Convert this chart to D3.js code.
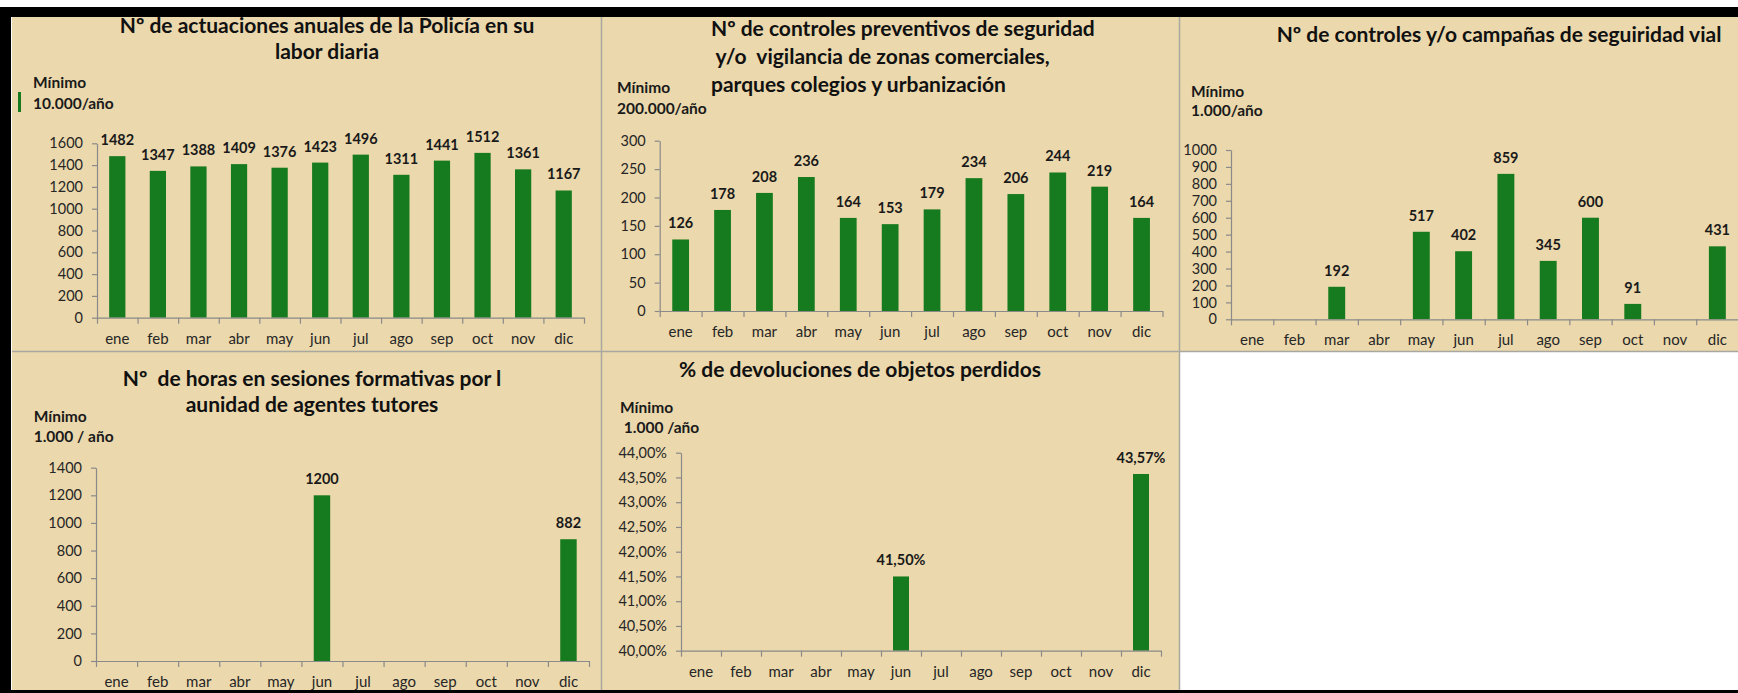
<!DOCTYPE html>
<html><head><meta charset="utf-8">
<script src="https://cdn.jsdelivr.net/npm/d3@7"></script>
<style>
body{margin:0;background:#fff}
svg{display:block}
text{font-family:Lato,"Open Sans",sans-serif}
</style>
</head><body><svg id="c" width="1738" height="693"></svg>
<script>
// ---------- data ----------
const months = ["ene","feb","mar","abr","may","jun","jul","ago","sep","oct","nov","dic"];
const actuaciones = [1482,1347,1388,1409,1376,1423,1496,1311,1441,1512,1361,1167];
const controlesPreventivos = [126,178,208,236,164,153,179,234,206,244,219,164];
const controlesVial = [null,null,192,null,517,402,859,345,600,91,null,431];
const horasFormativas = [null,null,null,null,null,1200,null,null,null,null,null,882];
const devoluciones = [null,null,null,null,null,0.4150,null,null,null,null,null,0.4357];

const ticksActuaciones = [0,200,400,600,800,1000,1200,1400,1600];
const ticksPreventivos = [0,50,100,150,200,250,300];
const ticksVial = [0,100,200,300,400,500,600,700,800,900,1000];
const ticksHoras = [0,200,400,600,800,1000,1200,1400];
const ticksDevoluciones = [0.40,0.405,0.41,0.415,0.42,0.425,0.43,0.435,0.44];

const titleActuaciones = ["Nº de actuaciones anuales de la Policía en su","labor diaria"];
const titlePreventivos = ["Nº de controles preventivos de seguridad"," y/o  vigilancia de zonas comerciales,","parques colegios y urbanización"];
const titleVial = ["Nº de controles y/o campañas de seguiridad vial"];
const titleHoras = ["Nº  de horas en sesiones formativas por l","aunidad de agentes tutores"];
const titleDevoluciones = ["% de devoluciones de objetos perdidos"];

const minActuaciones = ["Mínimo","10.000/año"];
const minPreventivos = ["Mínimo","200.000/año"];
const minVial = ["Mínimo","1.000/año"];
const minHoras = ["Mínimo","1.000 / año"];
const minDevoluciones = ["Mínimo"," 1.000 /año"];

// ---------- style ----------
const BEIGE = "#EBD8AC", GREEN = "#167A1E", AXIS = "#8a8a8a", TXT = "#262626";
const loc = d3.formatLocale({decimal:",", thousands:".", grouping:[3], currency:["","€"]});
const fmtInt = loc.format("d");
const fmtPct = loc.format(".2%");

const svg = d3.select("#c");
svg.append("rect").attr("width",1738).attr("height",693).attr("fill","#fff");

// panels background
const panelsBg = [
  [12,17,590,335],[602,17,578,335],[1180,17,558,335],
  [12,352,590,338],[602,352,578,338]
];
svg.selectAll("rect.bg").data(panelsBg).join("rect").attr("class","bg")
  .attr("x",d=>d[0]).attr("y",d=>d[1]).attr("width",d=>d[2]).attr("height",d=>d[3]).attr("fill",BEIGE);
// separators
svg.append("line").attr("x1",601.5).attr("x2",601.5).attr("y1",17).attr("y2",690).attr("stroke","#a8a8a0").attr("stroke-width",1.5);
svg.append("line").attr("x1",1179.5).attr("x2",1179.5).attr("y1",17).attr("y2",690).attr("stroke","#a8a8a0").attr("stroke-width",1.5);
svg.append("line").attr("x1",12).attr("x2",1738).attr("y1",351.5).attr("y2",351.5).attr("stroke","#a8a8a0").attr("stroke-width",1.5);
// frame
svg.append("rect").attr("x",0).attr("y",7).attr("width",1738).attr("height",10).attr("fill","#000");
svg.append("rect").attr("x",0).attr("y",7).attr("width",11).attr("height",686).attr("fill","#000");
svg.append("rect").attr("x",0).attr("y",690).attr("width",1738).attr("height",3).attr("fill","#000");
svg.append("rect").attr("x",18).attr("y",92).attr("width",3).attr("height",20).attr("fill",GREEN);

const panels = [
  {values:actuaciones, ticks:ticksActuaciones, fmt:fmtInt, xr:[97,584], yr:[317.7,143.3],
   title:titleActuaciones, tAnchor:"middle", tx:327, ty:[32.5,59], min:minActuaciones, mx:33, my:[87.5,108.5]},
  {values:controlesPreventivos, ticks:ticksPreventivos, fmt:fmtInt, xr:[659.7,1162.5], yr:[311,140.7],
   title:titlePreventivos, tAnchor:"start", tx:711, ty:[36,64,92], min:minPreventivos, mx:617, my:[92.5,113.5]},
  {values:controlesVial, ticks:ticksVial, fmt:fmtInt, xr:[1231,1738.5], yr:[319.3,150],
   title:titleVial, tAnchor:"middle", tx:1499, ty:[42], min:minVial, mx:1191, my:[96.5,116]},
  {values:horasFormativas, ticks:ticksHoras, fmt:fmtInt, xr:[96,589], yr:[661,467.7],
   title:titleHoras, tAnchor:"middle", tx:312, ty:[385.5,412], min:minHoras, mx:33.7, my:[421.5,441.5]},
  {values:devoluciones, ticks:ticksDevoluciones, fmt:fmtPct, xr:[681,1161], yr:[650.7,452.7],
   title:titleDevoluciones, tAnchor:"middle", tx:860, ty:[376.5], min:minDevoluciones, mx:620, my:[413,432.5]}
];

function drawPanel(cfg){
  const g = svg.append("g");
  const x = d3.scaleBand().domain(months).range(cfg.xr).paddingInner(0.6).paddingOuter(0.3);
  const y = d3.scaleLinear().domain([cfg.ticks[0], cfg.ticks[cfg.ticks.length-1]]).range(cfg.yr);
  const data = months.map((m,i)=>({m, v:cfg.values[i]})).filter(d=>d.v!=null);

  // bars
  g.selectAll("rect.bar").data(data).join("rect").attr("class","bar")
    .attr("x",d=>x(d.m)).attr("width",x.bandwidth())
    .attr("y",d=>y(d.v)).attr("height",d=>y(cfg.ticks[0])-y(d.v))
    .attr("fill",GREEN);

  // y axis
  const ya = g.append("g").attr("transform",`translate(${cfg.xr[0]},0)`)
    .call(d3.axisLeft(y).tickValues(cfg.ticks).tickSize(5).tickSizeOuter(0).tickPadding(9).tickFormat(cfg.fmt));
  // x boundary ticks + axis line
  const xb = d3.scaleLinear().domain([0,months.length]).range(cfg.xr);
  const xa = g.append("g").attr("transform",`translate(0,${cfg.yr[0]})`)
    .call(d3.axisBottom(xb).tickValues(d3.range(months.length+1)).tickSize(6).tickSizeOuter(0).tickFormat(""));
  // x labels
  const xl = g.append("g").attr("transform",`translate(0,${cfg.yr[0]})`)
    .call(d3.axisBottom(x).tickSize(0).tickPadding(15.5));
  xl.select(".domain").remove();

  [ya,xa].forEach(a=>{
    a.select(".domain").attr("stroke",AXIS).attr("stroke-width",1.2);
    a.selectAll(".tick line").attr("stroke",AXIS).attr("stroke-width",1.2);
  });
  ya.selectAll("text").attr("fill",TXT).style("font-size","14.5px").style("font-family","Lato, 'Open Sans', sans-serif");
  xl.selectAll("text").attr("fill",TXT).style("font-size","15px").style("font-family","Lato, 'Open Sans', sans-serif");

  // data labels
  g.selectAll("text.lbl").data(data).join("text").attr("class","lbl")
    .attr("x",d=>x(d.m)+x.bandwidth()/2).attr("y",d=>y(d.v)-11)
    .attr("text-anchor","middle").attr("fill","#1a1a1a")
    .style("font-size","14.5px").style("font-weight","700")
    .text(d=>cfg.fmt(d.v));

  // title
  g.selectAll("text.title").data(cfg.title).join("text").attr("class","title")
    .attr("x",cfg.tx).attr("y",(d,i)=>cfg.ty[i]).attr("text-anchor",cfg.tAnchor)
    .attr("fill","#111").style("font-size","21px").style("font-weight","700")
    .style("white-space","pre").attr("xml:space","preserve")
    .text(d=>d);

  // minimum note
  g.selectAll("text.min").data(cfg.min).join("text").attr("class","min")
    .attr("x",cfg.mx).attr("y",(d,i)=>cfg.my[i])
    .attr("fill","#1a1a1a").style("font-size","15.5px").style("font-weight","700")
    .attr("xml:space","preserve").style("white-space","pre")
    .text(d=>d);
}
panels.forEach(drawPanel);
</script>
</body></html>
